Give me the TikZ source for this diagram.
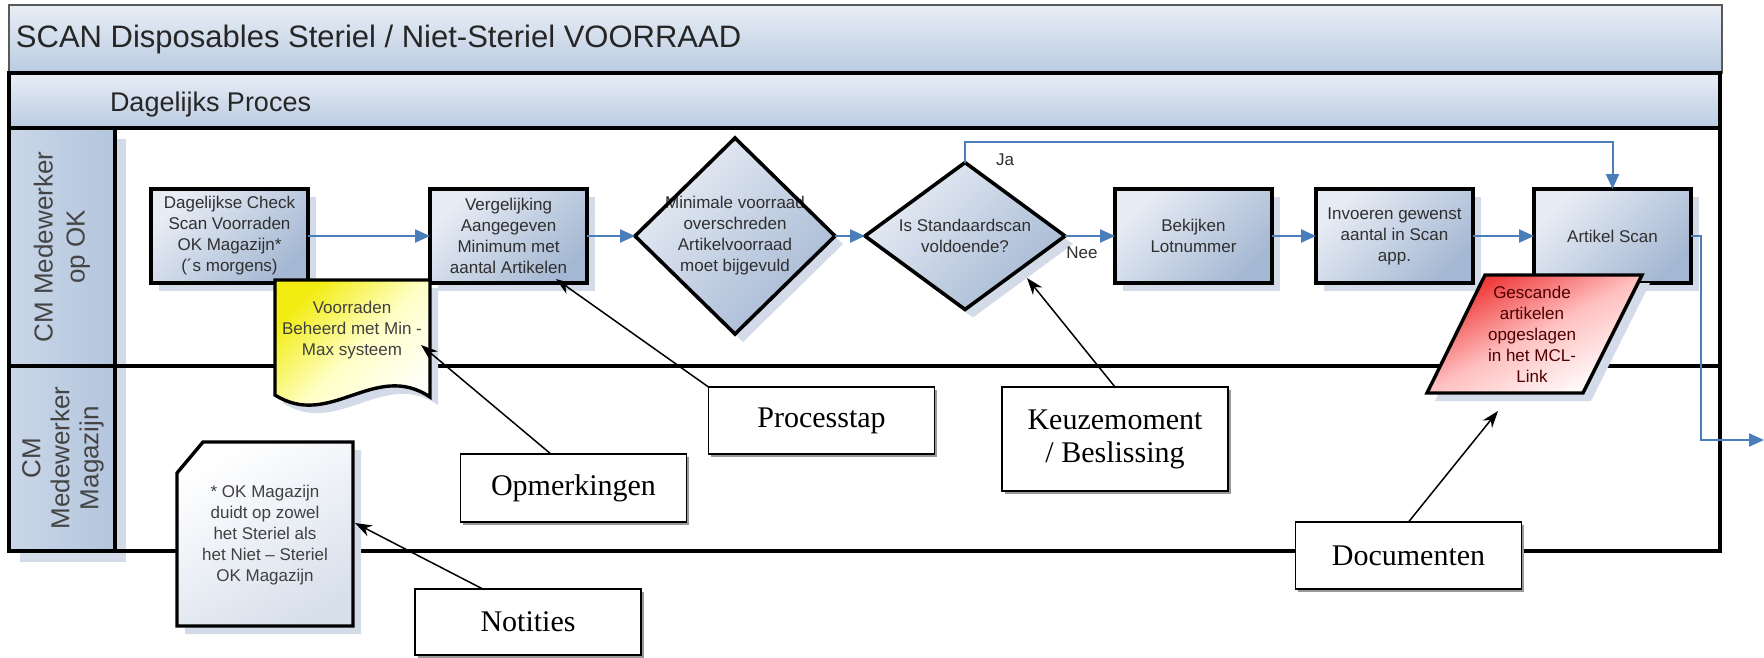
\documentclass[tikz,border=0pt]{standalone}
\usepackage{fontspec}
\setmainfont{Liberation Serif}
\newfontfamily\sansf{Liberation Sans}
\usetikzlibrary{shapes.geometric,arrows.meta,shadows,calc}

\definecolor{flowblue}{HTML}{4A7EBB}
\definecolor{barlight}{HTML}{E8EEF6}
\definecolor{bardark}{HTML}{BACBE1}
\definecolor{boxlight}{HTML}{E8EDF5}
\definecolor{boxdark}{HTML}{A5B8D3}
\definecolor{shadowc}{HTML}{D3DBE8}
\definecolor{hdrlight}{HTML}{CAD7E8}
\definecolor{hdrdark}{HTML}{B3C5DD}
\definecolor{inktext}{HTML}{2F2F2F}
\definecolor{docyellow}{HTML}{F2EC10}
\definecolor{docred}{HTML}{EE2F2F}
\definecolor{notegray}{HTML}{D8E0EC}

\begin{document}
\begin{tikzpicture}[x=1pt, y=-1pt,
  every node/.style={inner sep=0pt, outer sep=0pt},
  sanstext/.style={font=\sansf\fontsize{17}{21}\selectfont, text=inktext, align=center},
  softshadow/.style={drop shadow={shadow xshift=8pt, shadow yshift=-8pt, fill=shadowc, opacity=1}},
  % shading angle turns the top colour counter-clockwise: 45 puts it at the upper left
  stepbox/.style={sanstext, draw=black, line width=3.6pt, minimum width=157pt, minimum height=94pt,
    top color=boxlight, bottom color=boxdark, shading angle=45, softshadow},
  decisionfill/.style={diamond, draw=none, minimum width=200pt,
    top color=boxlight, bottom color=boxdark, shading angle=45, softshadow},
  edgeline/.style={draw=black, line width=3.6pt, line join=miter},
  frameline/.style={draw=black, line width=3.8pt},
  barshade/.style={top color=barlight, bottom color=bardark},
  hdrshade/.style={left color=hdrlight, right color=hdrdark,
    drop shadow={shadow xshift=11pt, shadow yshift=-11pt, fill=shadowc, opacity=1}},
  flow/.style={draw=flowblue, line width=2.4pt, -{Triangle[length=15pt, width=13pt]}},
  flowthin/.style={draw=flowblue, line width=2pt, -{Triangle[length=15pt, width=13pt]}},
  callout/.style={draw=black, line width=1.5pt, -{Stealth[length=17pt, width=12pt]}},
  legend/.style={draw=black, line width=1.5pt, fill=white, minimum width=226pt,
    font=\fontsize{30}{33}\selectfont, align=center,
    drop shadow={shadow xshift=2.5pt, shadow yshift=-2.5pt, fill=black!40, opacity=1}},
  lanetext/.style={font=\sansf\fontsize{26}{32}\selectfont, text=inktext!90, align=center, rotate=90},
  flowlabel/.style={font=\sansf\fontsize{17}{21}\selectfont, text=inktext},
]
\useasboundingbox (0,0) rectangle (1764,657);

% ---------- pool frame ----------
\path[draw=black!65, line width=1.2pt, barshade] (9,5) rectangle (1722,73);
\node[anchor=base west, font=\sansf\fontsize{31}{36}\selectfont, text=black!85] (title) at (16,47)
  {SCAN Disposables Steriel / Niet-Steriel VOORRAAD};
\path[frameline, barshade] (9,73) rectangle (1720,128);
\node[anchor=base west, font=\sansf\fontsize{27}{32}\selectfont, text=black!85] (phase) at (110,111)
  {Dagelijks Proces};

\path[fill=white] (9,128) rectangle (1720,551);
\path[hdrshade] (9,128) rectangle (115,366);
\path[hdrshade] (9,366) rectangle (115,551);
\draw[frameline] (115,128) -- (115,551);
\draw[frameline] (9,366) -- (1720,366);
\draw[frameline] (9,128) rectangle (1720,551);

\node[lanetext] (laneOK) at (62,247) {CM Medewerker\\op OK};
\node[lanetext, font=\sansf\fontsize{26}{29}\selectfont] (laneMag) at (63,458) {CM\\Medewerker\\Magazijn};

% ---------- process steps ----------
\node[stepbox] (b1) at (229.5,236) {Dagelijkse Check\\Scan Voorraden\\OK Magazijn*\\(´s morgens)};
\node[stepbox] (b2) at (508.5,236) {Vergelijking\\Aangegeven\\Minimum met\\aantal Artikelen};

\node[decisionfill, minimum height=196pt] (d1) at (735,236) {};
\node[sanstext] (d1txt) at (735,236) {Minimale voorraad\\overschreden\\Artikelvoorraad\\moet bijgevuld};
\draw[edgeline] (d1.north) -- (d1.east) -- (d1.south) -- (d1.west) -- cycle;

\node[decisionfill, minimum height=147pt] (d2) at (965,236) {};
\node[sanstext] (d2txt) at (965,236) {Is Standaardscan\\voldoende?};
\draw[edgeline] (d2.north) -- (d2.east) -- (d2.south) -- (d2.west) -- cycle;

\node[stepbox] (b5) at (1193.5,236) {Bekijken\\Lotnummer};
\node[stepbox] (b6) at (1394.5,236) {Invoeren gewenst\\aantal in Scan\\app.};
\node[stepbox] (b7) at (1612.5,236) {Artikel Scan};

% ---------- flow connectors ----------
\draw[flow] (b1) -- (b2);
\draw[flow] (b2) -- (d1);
\draw[flow] (d1) -- (d2);
\draw[flow] (d2) -- (b5);
\draw[flow] (b5) -- (b6);
\draw[flow] (b6) -- (b7);
\draw[flowthin] (d2.north) -- ++(0,-21) -| (b7.north);
\coordinate (exitpt) at (1764,440);
\draw[flowthin] (b7.east) -- ++(10,0) |- (exitpt);
\node[flowlabel] (ja) at (1005,160) {Ja};
\node[flowlabel] (nee) at (1082,253) {Nee};

% ---------- annotation (document with wavy bottom) ----------
\path[draw=black, line width=3.4pt, top color=docyellow, bottom color=white, middle color=yellow!22!white,
      shading angle=45, softshadow]
  (275,280) -- (430,280) -- (430,397) .. controls (375,360) and (330,430) .. (275,395) -- cycle;
\node[sanstext, text=black!75] (minmax) at (352,330) {Voorraden\\Beheerd met Min -\\Max systeem};

% ---------- stored document (parallelogram) ----------
\path[draw=black, line width=3.4pt, top color=docred, bottom color=white, middle color=red!25!white,
      shading angle=28, softshadow]
  (1485,275) -- (1642,275) -- (1583,393) -- (1427,393) -- cycle;
\node[sanstext, text=black!70!red] (mcl) at (1532,334) {Gescande\\artikelen\\opgeslagen\\in het MCL-\\Link};

% ---------- note with cut corner ----------
\path[draw=black, line width=3.4pt, top color=white, bottom color=notegray, shading angle=30, softshadow]
  (203,442) -- (353,442) -- (353,626) -- (177,626) -- (177,473) -- cycle;
\node[sanstext, text=black!75] (notetxt) at (265,535)
  {* OK Magazijn\\duidt op zowel\\het Steriel als\\het Niet – Steriel\\OK Magazijn};

% ---------- legend boxes ----------
\node[legend, minimum height=67pt] (legProc) at (821.5,420.5) {Processtap};
\node[legend, minimum height=104pt] (legKeuze) at (1115,439) {Keuzemoment\\/ Beslissing};
\node[legend, minimum height=68pt] (legOpm) at (573.5,488) {Opmerkingen};
\node[legend, minimum height=67pt] (legDoc) at (1408.5,555.5) {Documenten};
\node[legend, minimum height=66pt] (legNot) at (528,622) {Notities};

% ---------- legend callouts ----------
\coordinate (tipMinMax) at (421,345);
\coordinate (tipStep) at (556,279);
\coordinate (tipKeuze) at (1027,278);
\coordinate (tipDoc) at (1498,411);
\coordinate (tipNote) at (355,523);
\draw[callout] ($(legOpm.north west)!0.4!(legOpm.north east)$) -- (tipMinMax);
\draw[callout] (legProc.north west) -- (tipStep);
\draw[callout] (legKeuze.north) -- (tipKeuze);
\draw[callout] (legDoc.north) -- (tipDoc);
\draw[callout] ($(legNot.north west)!0.3!(legNot.north east)$) -- (tipNote);
\end{tikzpicture}
\end{document}
